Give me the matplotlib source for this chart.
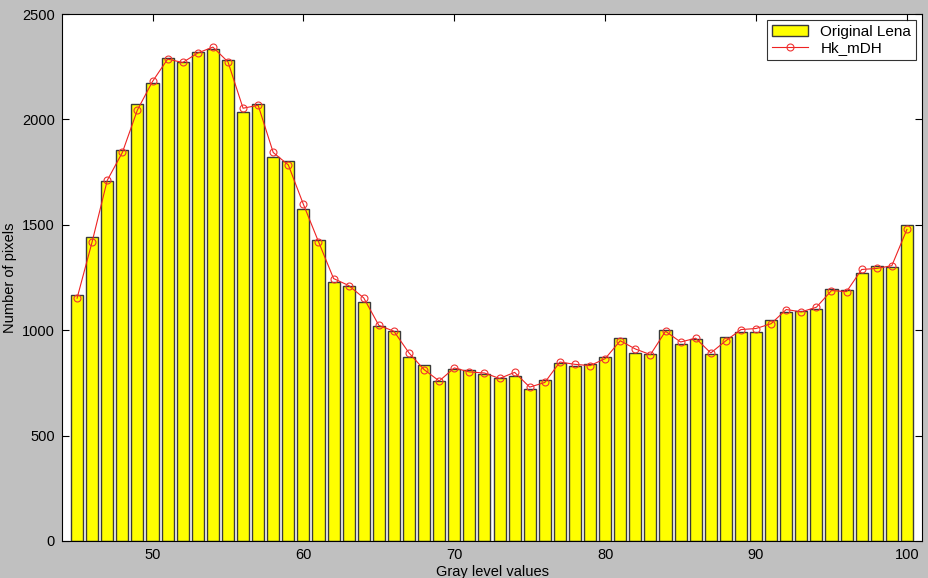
import matplotlib
matplotlib.use("Agg")
import matplotlib.pyplot as plt
import numpy as np

plt.rcParams['font.family'] = ['Liberation Sans', 'DejaVu Sans']

gray_levels = list(range(45, 101))
original_lena = [1166, 1443, 1708, 1854, 2071, 2172, 2291, 2270, 2319, 2335,
                 2281, 2033, 2071, 1820, 1801, 1575, 1426, 1228, 1212, 1134,
                 1020, 998, 871, 833, 759, 814, 810, 790, 773, 783,
                 721, 765, 846, 832, 840, 873, 963, 893, 887, 1001,
                 935, 957, 888, 970, 993, 993, 1047, 1087, 1092, 1101,
                 1196, 1191, 1272, 1306, 1299, 1499]
hk_mdh = [1152, 1420, 1711, 1843, 2045, 2180, 2286, 2270, 2315, 2343,
          2273, 2053, 2067, 1843, 1784, 1597, 1420, 1245, 1212, 1153,
          1023, 995, 892, 813, 759, 821, 802, 797, 771, 800,
          730, 752, 849, 838, 832, 865, 950, 911, 884, 995,
          944, 962, 892, 950, 1003, 1008, 1031, 1098, 1087, 1109,
          1188, 1183, 1288, 1293, 1306, 1478]

fig = plt.figure(figsize=(9.29, 5.78), dpi=100, facecolor='#c0c0c0')
ax = fig.add_axes([62/929, 1-541/578, (922-62)/929, (541-14)/578])
ax.set_facecolor('white')

bars = ax.bar(gray_levels, original_lena, width=0.8, color='#ffff00',
              edgecolor='#3a3a3a', linewidth=1.0, label='Original Lena', zorder=2)
line, = ax.plot(gray_levels, hk_mdh, color='#ee2222', linewidth=0.8, marker='o',
                markersize=5, markerfacecolor='none', markeredgecolor='#ee3333',
                markeredgewidth=0.8, label='Hk_mDH', zorder=3)

ax.set_xlim(44, 101)
ax.set_ylim(0, 2500)
ax.set_xticks([50, 60, 70, 80, 90, 100])
ax.set_yticks([0, 500, 1000, 1500, 2000, 2500])
ax.tick_params(direction='in', top=True, right=True, labelsize=10.5,
               length=5, width=0.8, colors='black', pad=5)
for s in ax.spines.values():
    s.set_linewidth(0.8)
    s.set_color('black')

ax.set_xlabel('Gray level values', fontsize=10.5, labelpad=2)
ax.set_ylabel('Number of pixels', fontsize=10.5, labelpad=4)

leg = ax.legend(handles=[bars, line], loc='upper right', fontsize=11,
                frameon=True, fancybox=False, edgecolor='black', borderpad=0.3,
                handlelength=2.4, handletextpad=0.8, labelspacing=0.15,
                borderaxespad=0.4)
leg.get_frame().set_linewidth(0.8)

fig.savefig('out.png', dpi=100, facecolor=fig.get_facecolor())
